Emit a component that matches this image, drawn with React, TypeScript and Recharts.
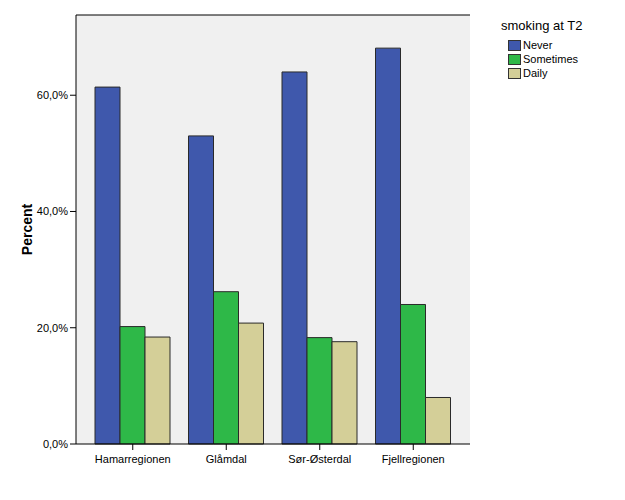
import { BarChart, Bar, XAxis, YAxis, CartesianGrid, ReferenceLine } from 'recharts';

const regions = ['Hamarregionen', 'Glåmdal', 'Sør-Østerdal', 'Fjellregionen'];
const never = [61.4, 53.0, 64.0, 68.1];
const sometimes = [20.2, 26.2, 18.3, 24.0];
const daily = [18.4, 20.8, 17.6, 8.0];
const yTicks = [0, 20, 40, 60];
const yMax = 73.8;

const seriesDefs = [
  { key: 'never', name: 'Never', color: '#3f58ac' },
  { key: 'sometimes', name: 'Sometimes', color: '#2eb848' },
  { key: 'daily', name: 'Daily', color: '#d4cf98' },
];

const data = regions.map((r, i) => ({ region: r, never: never[i], sometimes: sometimes[i], daily: daily[i] }));

const font = '"Liberation Sans", Arial, sans-serif';
const fmt = (v: number) => `${v.toFixed(1).replace('.', ',')}%`;

function LegendBox() {
  return (
    <div style={{ position: 'absolute', left: 501, top: 18, fontFamily: font, color: '#000' }}>
      <div style={{ fontSize: 13, marginBottom: 5 }}>smoking at T2</div>
      {seriesDefs.map(s => (
        <div key={s.key} style={{ display: 'flex', alignItems: 'center', height: 14, fontSize: 11, marginLeft: 7 }}>
          <span style={{ display: 'inline-block', width: 11, height: 9, background: s.color, border: '1px solid #333', marginRight: 2 }} />
          {s.name}
        </div>
      ))}
    </div>
  );
}

export default function App() {
  return (
    <div style={{ position: 'absolute', left: 0, top: 0, width: 625, height: 500, background: '#fff' }}>
      <BarChart width={625} height={500} data={data} margin={{ top: 15, right: 155, bottom: 0, left: 0 }} barCategoryGap={9} barGap={0}>
        <CartesianGrid fill="#f0f0f0" horizontal={false} vertical={false} />
        <XAxis
          dataKey="region"
          padding={{ left: 10, right: 10 }}
          height={56}
          tickLine={{ stroke: '#000' }}
          tickSize={6}
          tickMargin={5}
          axisLine={{ stroke: '#000' }}
          tick={{ fill: '#000', fontSize: 11, fontFamily: font }}
          interval={0}
        />
        <YAxis
          width={76}
          domain={[0, yMax]}
          ticks={yTicks}
          tickFormatter={fmt}
          tickSize={6}
          tickLine={{ stroke: '#000' }}
          axisLine={{ stroke: '#000' }}
          tick={{ fill: '#000', fontSize: 11, fontFamily: font }}
          label={{ value: 'Percent', angle: -90, position: 'insideLeft', offset: 27, style: { fontWeight: 'bold', fontSize: 14, fontFamily: font, fill: '#000', textAnchor: 'middle' } }}
        />
        <YAxis yAxisId="right" orientation="right" width={0} domain={[0, yMax]} tick={false} tickLine={false} axisLine={{ stroke: '#000' }} />
        <ReferenceLine y={yMax} stroke="#000" />
        {seriesDefs.map(s => (
          <Bar key={s.key} dataKey={s.key} name={s.name} fill={s.color} stroke="#2a2a2a" strokeWidth={1} isAnimationActive={false} />
        ))}
      </BarChart>
      <LegendBox />
    </div>
  );
}
